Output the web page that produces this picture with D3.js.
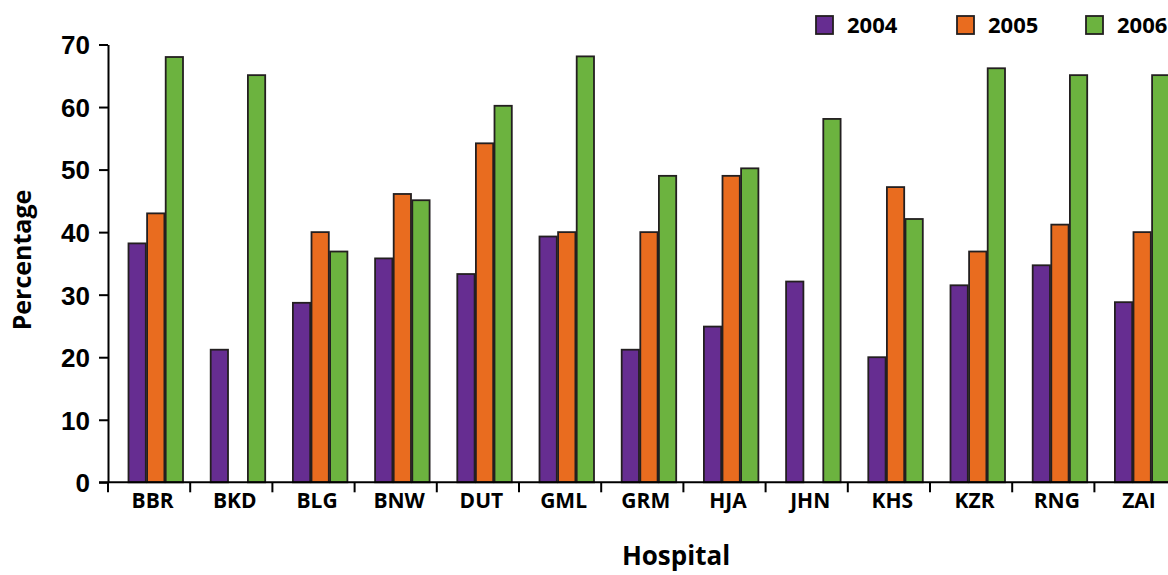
<!DOCTYPE html>
<html lang="en">
<head>
<meta charset="UTF-8">
<title>Percentage by Hospital</title>
<style>
  body { margin: 0; background: #fff; }
  svg { display: block; font-family: "Open Sans", "Noto Sans", sans-serif; font-weight: bold; }
  .axis path, .axis line { stroke: #000; stroke-width: 2; }
</style>
</head>
<body>
<svg width="1168" height="575"></svg>
<script src="https://cdn.jsdelivr.net/npm/d3@7"></script>
<script>
const hospitals = ["BBR", "BKD", "BLG", "BNW", "DUT", "GML", "GRM", "HJA", "JHN", "KHS", "KZR", "RNG", "ZAI"];
const years = ["2004", "2005", "2006"];
const values2004 = [38.2, 21.2, 28.7, 35.8, 33.3, 39.3, 21.2, 24.9, 32.1, 20.0, 31.5, 34.7, 28.8];
const values2005 = [43.0, null, 40.0, 46.1, 54.2, 40.0, 40.0, 49.0, null, 47.2, 36.9, 41.2, 40.0];
const values2006 = [68.0, 65.1, 36.9, 45.1, 60.2, 68.1, 49.0, 50.2, 58.1, 42.1, 66.2, 65.1, 65.1];
const yTicks = [0, 10, 20, 30, 40, 50, 60, 70];

const series = [values2004, values2005, values2006];
const colors = ["#662d91", "#e96c1f", "#6cb33f"];

const svg = d3.select("svg");

const plotLeft = 108, plotBottom = 482.3, plotTop = 44.5, step = 82.2;

const x0 = d3.scaleBand()
    .domain(hospitals)
    .range([plotLeft, plotLeft + step * hospitals.length])
    .padding(0);

const x1 = d3.scaleBand()
    .domain(years)
    .range([20.5, 75])
    .paddingInner(0.07);

const y = d3.scaleLinear()
    .domain([0, 70])
    .range([plotBottom, plotTop]);

// bars
const groups = svg.selectAll(".group")
    .data(hospitals)
    .enter().append("g")
    .attr("class", "group")
    .attr("transform", d => `translate(${x0(d)},0)`);

groups.selectAll("rect")
    .data((h, i) => years.map((yr, j) => ({ year: yr, value: series[j][i], color: colors[j] })))
    .enter().filter(d => d.value != null).append("rect")
    .attr("x", d => x1(d.year))
    .attr("y", d => y(d.value))
    .attr("width", x1.bandwidth())
    .attr("height", d => plotBottom - y(d.value))
    .attr("fill", d => d.color)
    .attr("stroke", "#231f20")
    .attr("stroke-width", 1.8);

// y axis
const yAxis = svg.append("g")
    .attr("class", "axis")
    .attr("transform", `translate(${plotLeft},0)`)
    .call(d3.axisLeft(y).tickValues(yTicks).tickSize(9).tickPadding(9).tickSizeOuter(0));
yAxis.selectAll("text")
    .style("font-size", "26px")
    .attr("fill", "#000")
    .attr("dy", "0.36em");

// x axis with separators at band edges
const xAxis = svg.append("g")
    .attr("class", "axis")
    .attr("transform", `translate(0,${plotBottom})`);
xAxis.append("line")
    .attr("x1", plotLeft - 9)
    .attr("x2", 1168)
    .attr("y1", 0)
    .attr("y2", 0);
xAxis.selectAll(".sep")
    .data(hospitals)
    .enter().append("line")
    .attr("class", "sep")
    .attr("x1", d => x0(d))
    .attr("x2", d => x0(d))
    .attr("y1", 0)
    .attr("y2", 10);
xAxis.selectAll(".lab")
    .data(hospitals)
    .enter().append("text")
    .attr("class", "lab")
    .attr("x", d => x0(d) + x0.bandwidth() / 2 + 3.5)
    .attr("y", 26)
    .attr("text-anchor", "middle")
    .style("font-size", "21px")
    .text(d => d);

// axis titles
svg.append("text")
    .attr("transform", "rotate(-90)")
    .attr("x", -260)
    .attr("y", 31)
    .attr("text-anchor", "middle")
    .style("font-size", "25px")
    .text("Percentage");

svg.append("text")
    .attr("x", 676)
    .attr("y", 565)
    .attr("text-anchor", "middle")
    .style("font-size", "26px")
    .text("Hospital");

// legend
const legend = svg.selectAll(".legend")
    .data(years)
    .enter().append("g")
    .attr("class", "legend")
    .attr("transform", (d, i) => `translate(${[816, 957, 1086][i]},16)`);

legend.append("rect")
    .attr("width", 17)
    .attr("height", 18)
    .attr("fill", (d, i) => colors[i])
    .attr("stroke", "#231f20")
    .attr("stroke-width", 1.8);

legend.append("text")
    .attr("x", 31)
    .attr("y", 17)
    .style("font-size", "22px")
    .text(d => d);
</script>
</body>
</html>
